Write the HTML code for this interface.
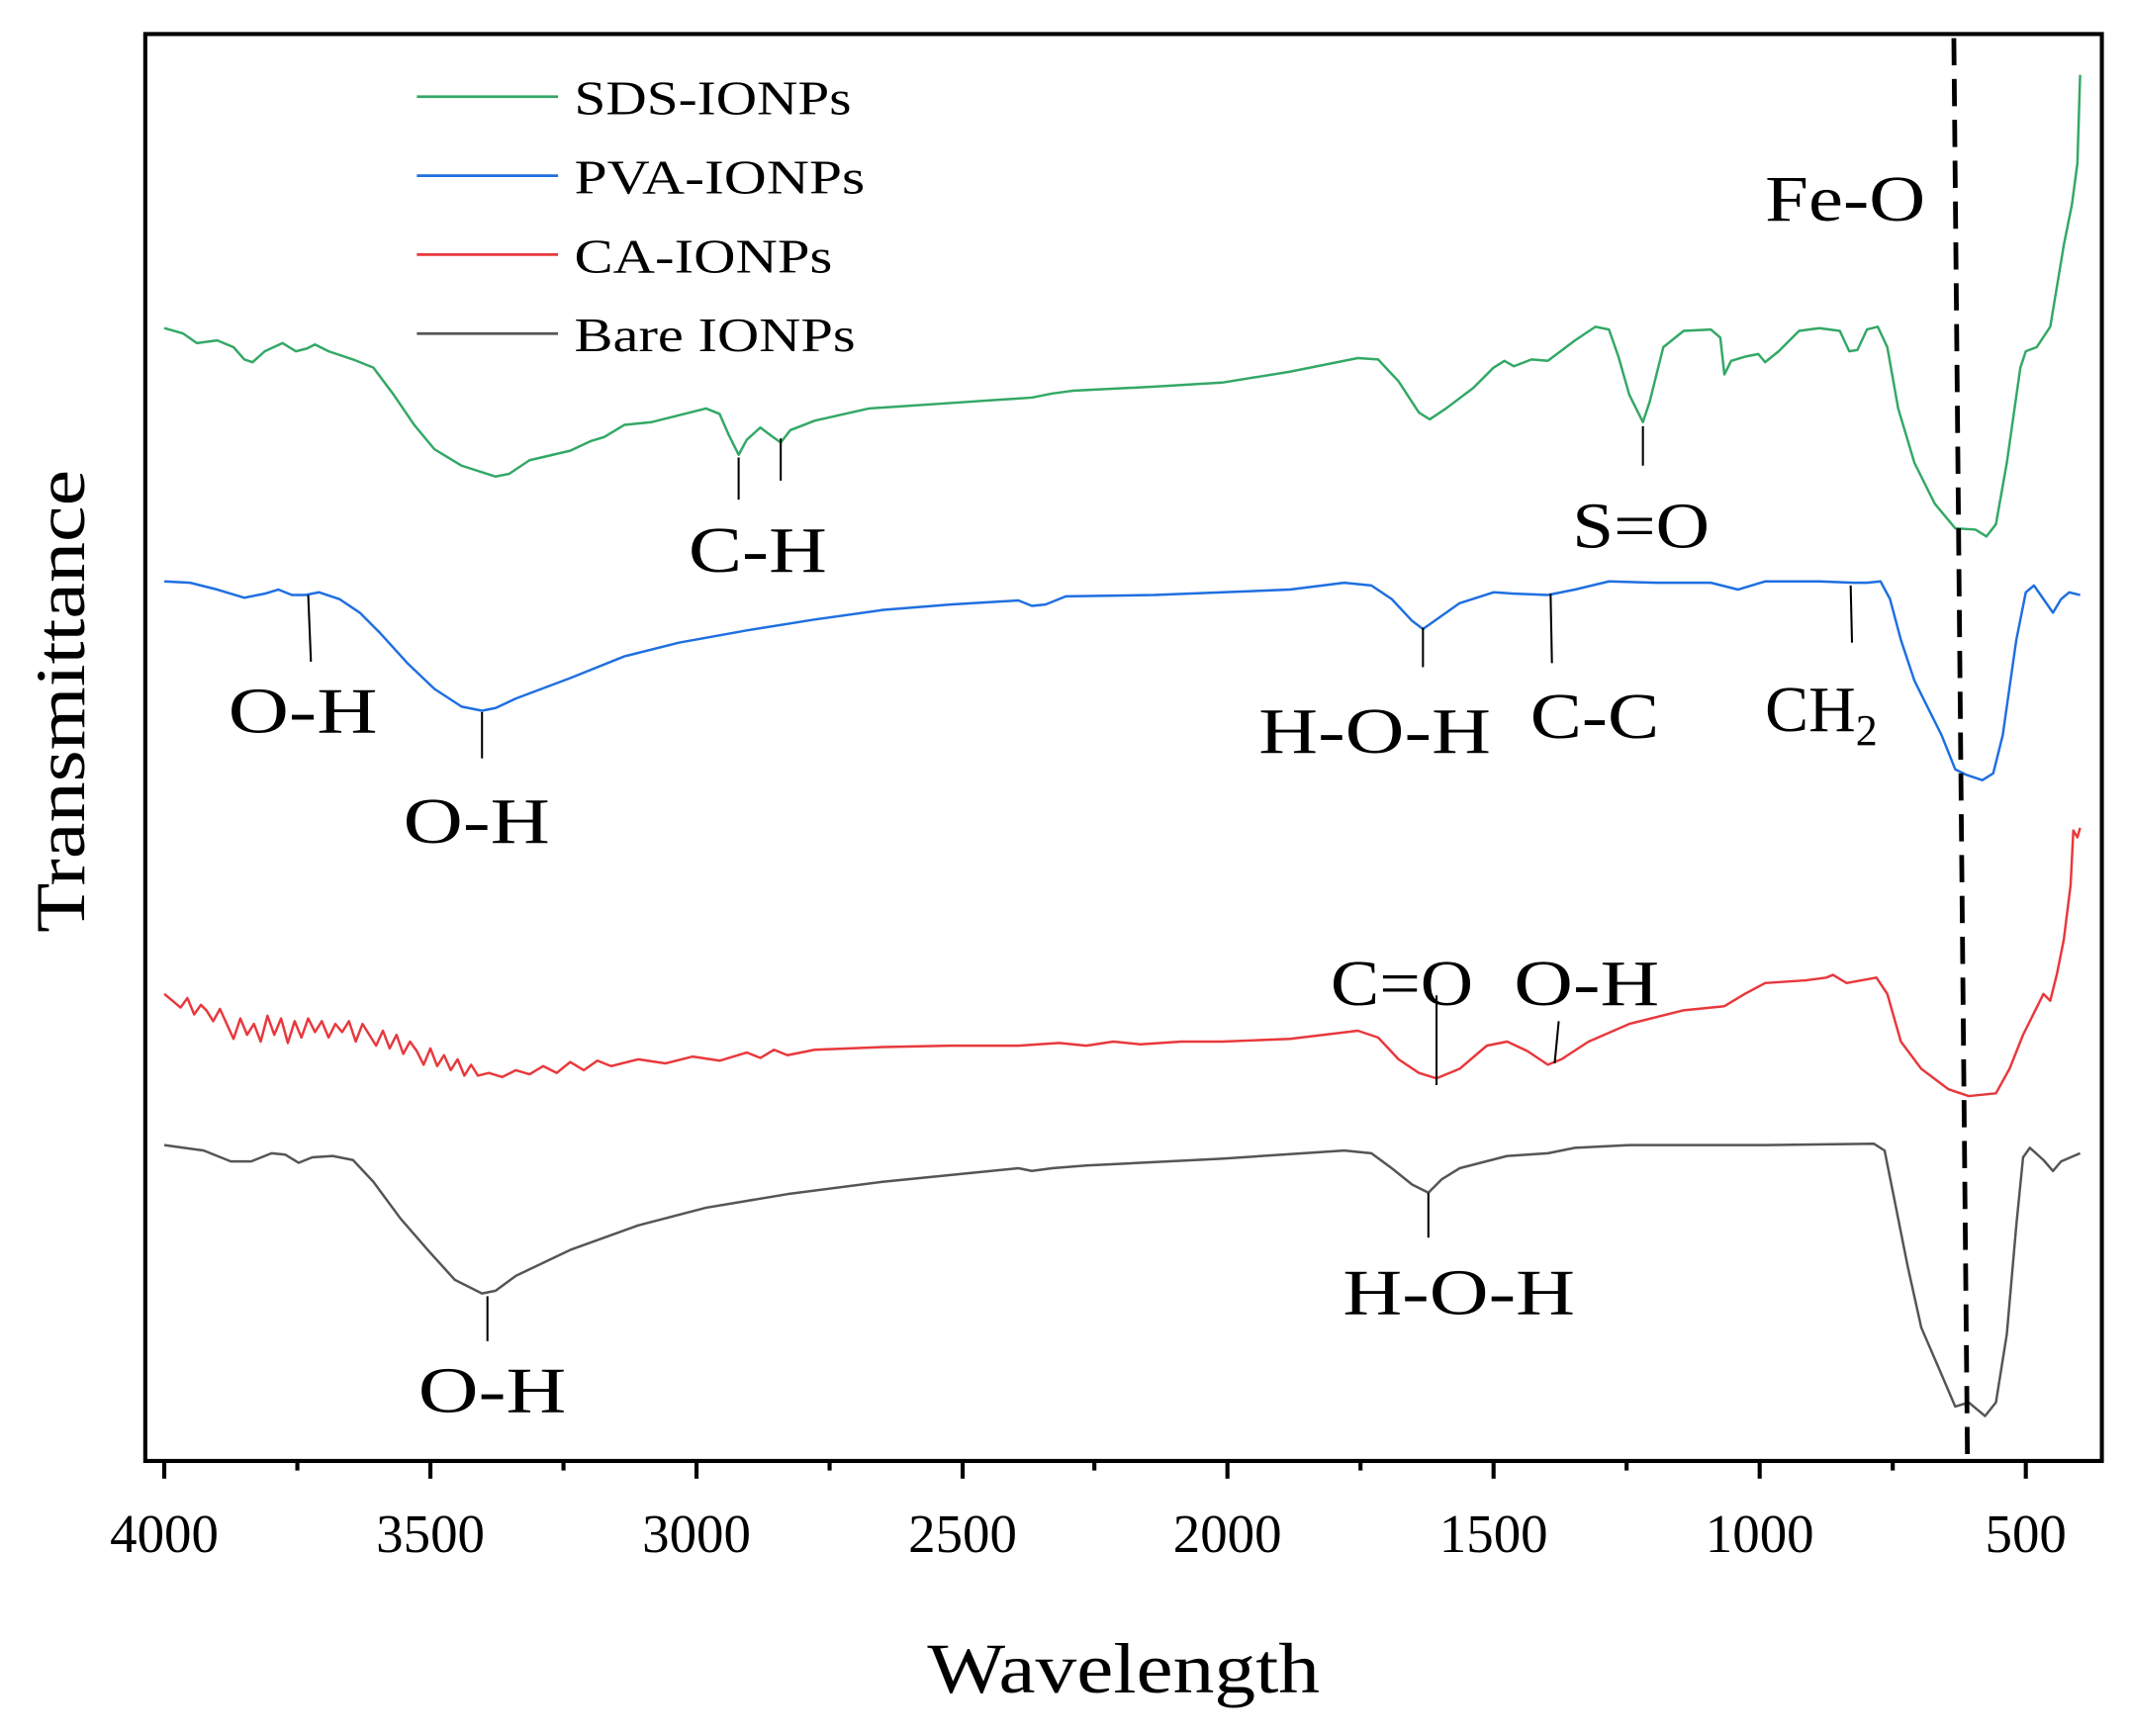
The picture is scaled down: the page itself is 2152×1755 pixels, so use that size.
<!DOCTYPE html>
<html><head><meta charset="utf-8"><style>
html,body{margin:0;padding:0;background:#fff}
svg{display:block}
text{font-family:"Liberation Serif","DejaVu Serif",serif;fill:#000}
</style></head><body>
<svg width="2152" height="1755" viewBox="0 0 1568 1275" preserveAspectRatio="none" xmlns="http://www.w3.org/2000/svg">
<rect x="0" y="0" width="1568" height="1275" fill="#fff"/>
<g fill="none" stroke-width="1.8" stroke-linejoin="round">
<polyline stroke="#33a866" points="121,241 135,245 145,252 160,250 172,255 180,264 186,266 195,258 208,252 218,258 226,256 232,253 242,258 260,264 275,270 290,290 305,312 320,330 340,342 365,350 375,348 390,338 420,331 435,324 445,321 460,312 480,310 500,305 520,300 530,304 537,320 544,334 550,323 560,314 568,320 575,325 582,316 600,309 640,300 700,296 760,292 775,289 790,287 850,284 900,281 950,273 1000,263 1015,264 1030,280 1045,303 1053,308 1065,300 1085,285 1100,270 1108,265 1115,269 1128,264 1140,265 1160,250 1175,240 1185,242 1192,262 1200,290 1210,310 1215,295 1225,255 1240,243 1260,242 1267,248 1270,275 1275,265 1285,262 1295,260 1300,266 1310,258 1325,243 1340,241 1355,243 1362,258 1368,257 1375,242 1383,240 1390,255 1398,300 1410,340 1425,370 1440,388 1455,389 1463,394 1470,385 1478,340 1488,270 1492,258 1500,255 1510,240 1520,180 1526,150 1530,120 1532,55"/>
<polyline stroke="#1f6fe0" points="121,427 140,428 160,433 180,439 195,436 205,433 215,437 225,437 235,435 250,440 265,450 280,465 300,487 320,506 340,519 355,522 365,520 380,513 420,498 460,482 500,472 550,463 600,455 650,448 700,444 750,441 760,445 770,444 785,438 850,437 950,433 990,428 1010,430 1025,440 1040,456 1048,462 1058,455 1075,443 1100,435 1115,436 1140,437 1160,433 1185,427 1220,428 1260,428 1280,433 1300,427 1340,427 1365,428 1375,428 1385,427 1392,440 1400,470 1410,500 1420,520 1430,540 1440,565 1448,569 1460,573 1468,568 1475,540 1485,470 1492,435 1498,430 1505,440 1512,450 1518,440 1524,435 1532,437"/>
<polyline stroke="#e8383d" points="121,730 127,735 133,740 138,733 143,745 148,738 152,742 157,750 162,741 167,752 172,763 177,748 182,760 187,752 192,765 197,746 202,760 207,748 212,766 217,750 222,762 227,748 232,758 237,750 242,762 247,752 252,758 257,750 262,765 267,752 272,760 277,768 282,757 287,770 292,760 297,774 302,765 307,772 312,782 317,770 322,783 327,775 332,786 337,778 342,790 347,782 352,790 360,788 370,791 380,786 390,789 400,783 410,788 420,780 430,786 440,779 450,783 470,778 490,781 510,776 530,779 550,773 560,777 570,771 580,775 600,771 650,769 700,768 750,768 780,766 800,768 820,765 840,767 870,765 900,765 950,763 1000,757 1015,762 1030,778 1045,788 1058,792 1075,785 1095,768 1110,765 1125,772 1140,782 1150,778 1170,765 1200,752 1240,742 1270,739 1285,730 1300,722 1330,720 1345,718 1350,716 1360,722 1382,718 1390,730 1400,765 1415,785 1435,800 1450,805 1470,803 1480,785 1490,760 1500,740 1505,730 1510,735 1515,715 1520,690 1525,650 1527,610 1530,615 1532,608"/>
<polyline stroke="#555555" points="121,841 150,845 170,853 185,853 200,847 210,848 220,854 230,850 245,849 260,852 275,868 295,895 315,918 335,940 355,950 365,948 380,937 420,918 470,900 520,887 580,877 650,868 700,863 750,858 760,860 775,858 800,856 900,851 990,845 1010,847 1025,858 1040,870 1052,876 1062,866 1075,858 1110,849 1140,847 1160,843 1200,841 1300,841 1380,840 1388,845 1395,880 1405,930 1415,975 1428,1005 1440,1033 1450,1030 1462,1040 1470,1030 1478,980 1485,900 1490,850 1495,843 1505,852 1512,860 1518,853 1532,847"/>
</g>
<line x1="1439" y1="28" x2="1449" y2="1068" stroke="#000" stroke-width="3.5" stroke-dasharray="20,10"/>
<g stroke="#000" stroke-width="1.5">
<line x1="544" y1="336" x2="544" y2="367"/><line x1="575" y1="322" x2="575" y2="353"/>
<line x1="1210" y1="313" x2="1210" y2="342"/>
<line x1="227" y1="437" x2="229" y2="486"/><line x1="355" y1="523" x2="355" y2="557"/>
<line x1="1048" y1="461" x2="1048" y2="490"/><line x1="1142" y1="436" x2="1143" y2="487"/>
<line x1="1363" y1="430" x2="1364" y2="472"/>
<line x1="1058" y1="731" x2="1058" y2="797"/><line x1="1148" y1="750" x2="1145" y2="781"/>
<line x1="1052" y1="876" x2="1052" y2="909"/><line x1="359" y1="952" x2="359" y2="985"/>
</g>
<rect x="107" y="25" width="1441" height="1048" fill="none" stroke="#000" stroke-width="3"/>
<g stroke="#000" stroke-width="3">
<line x1="121" y1="1073" x2="121" y2="1086"/><line x1="219" y1="1073" x2="219" y2="1080"/>
<line x1="317" y1="1073" x2="317" y2="1086"/><line x1="415" y1="1073" x2="415" y2="1080"/>
<line x1="513" y1="1073" x2="513" y2="1086"/><line x1="611" y1="1073" x2="611" y2="1080"/>
<line x1="709" y1="1073" x2="709" y2="1086"/><line x1="806" y1="1073" x2="806" y2="1080"/>
<line x1="904" y1="1073" x2="904" y2="1086"/><line x1="1002" y1="1073" x2="1002" y2="1080"/>
<line x1="1100" y1="1073" x2="1100" y2="1086"/><line x1="1198" y1="1073" x2="1198" y2="1080"/>
<line x1="1296" y1="1073" x2="1296" y2="1086"/><line x1="1394" y1="1073" x2="1394" y2="1080"/>
<line x1="1492" y1="1073" x2="1492" y2="1086"/>
</g>
<g font-size="40" text-anchor="middle">
<text x="121" y="1140">4000</text><text x="317" y="1140">3500</text><text x="513" y="1140">3000</text>
<text x="709" y="1140">2500</text><text x="904" y="1140">2000</text><text x="1100" y="1140">1500</text>
<text x="1296" y="1140">1000</text><text x="1492" y="1140">500</text>
</g>
<text x="683" y="1243" font-size="52" textLength="289" lengthAdjust="spacingAndGlyphs">Wavelength</text>
<text transform="translate(62,685) rotate(-90)" font-size="52" textLength="340" lengthAdjust="spacingAndGlyphs">Transmittance</text>
<g stroke-width="2">
<line x1="307" y1="71" x2="411" y2="71" stroke="#33a866"/>
<line x1="307" y1="129" x2="411" y2="129" stroke="#1f6fe0"/>
<line x1="307" y1="187" x2="411" y2="187" stroke="#e8383d"/>
<line x1="307" y1="245" x2="411" y2="245" stroke="#555555"/>
</g>
<g font-size="35" lengthAdjust="spacingAndGlyphs">
<text x="423" y="84" textLength="204" lengthAdjust="spacingAndGlyphs">SDS-IONPs</text>
<text x="423" y="142" textLength="214" lengthAdjust="spacingAndGlyphs">PVA-IONPs</text>
<text x="423" y="200" textLength="190" lengthAdjust="spacingAndGlyphs">CA-IONPs</text>
<text x="423" y="258" textLength="207" lengthAdjust="spacingAndGlyphs">Bare IONPs</text>
</g>
<g font-size="48">
<text x="1300" y="162" textLength="118" lengthAdjust="spacingAndGlyphs">Fe-O</text>
<text x="507" y="420" textLength="102" lengthAdjust="spacingAndGlyphs">C-H</text>
<text x="1158" y="402" textLength="101" lengthAdjust="spacingAndGlyphs">S=O</text>
<text x="168" y="538" textLength="110" lengthAdjust="spacingAndGlyphs">O-H</text>
<text x="297" y="619" textLength="108" lengthAdjust="spacingAndGlyphs">O-H</text>
<text x="927" y="553" textLength="171" lengthAdjust="spacingAndGlyphs">H-O-H</text>
<text x="1127" y="542" textLength="95" lengthAdjust="spacingAndGlyphs">C-C</text>
<text x="1300" y="537">CH<tspan font-size="32" dy="10">2</tspan></text>
<text x="980" y="738" textLength="105" lengthAdjust="spacingAndGlyphs">C=O</text>
<text x="1115" y="738" textLength="107" lengthAdjust="spacingAndGlyphs">O-H</text>
<text x="989" y="965" textLength="171" lengthAdjust="spacingAndGlyphs">H-O-H</text>
<text x="308" y="1037" textLength="109" lengthAdjust="spacingAndGlyphs">O-H</text>
</g>
</svg>
</body></html>
